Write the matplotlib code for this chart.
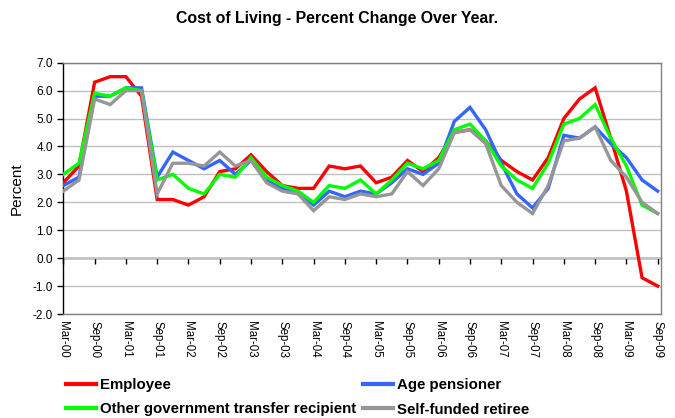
import matplotlib
matplotlib.use("Agg")
import matplotlib.pyplot as plt
from matplotlib.lines import Line2D

plt.rcParams['font.family'] = ['Liberation Sans', 'DejaVu Sans']
plt.rcParams['axes.unicode_minus'] = False

quarters = [f"{m}-{y:02d}" for y in range(0, 10) for m in ("Mar", "Jun", "Sep", "Dec")][:39]

employee = [2.7, 3.3, 6.3, 6.5, 6.5, 5.8, 2.1, 2.1, 1.9, 2.2,
            3.1, 3.2, 3.7, 3.1, 2.6, 2.5, 2.5, 3.3, 3.2, 3.3,
            2.7, 2.9, 3.5, 3.1, 3.6, 4.5, 4.6, 4.2, 3.5, 3.1,
            2.8, 3.6, 5.0, 5.7, 6.1, 4.3, 2.4, -0.7, -1.0]
age_pensioner = [2.6, 2.9, 5.8, 5.8, 6.1, 6.1, 2.9, 3.8, 3.5, 3.2,
                 3.5, 3.0, 3.5, 2.8, 2.5, 2.4, 1.9, 2.4, 2.2, 2.4,
                 2.3, 2.7, 3.2, 3.0, 3.4, 4.9, 5.4, 4.6, 3.4, 2.3,
                 1.8, 2.5, 4.4, 4.3, 4.7, 4.1, 3.6, 2.8, 2.4]
other_transfer = [3.0, 3.4, 5.9, 5.8, 6.1, 6.0, 2.8, 3.0, 2.5, 2.3,
                  3.0, 2.9, 3.6, 2.9, 2.6, 2.4, 2.0, 2.6, 2.5, 2.8,
                  2.3, 2.8, 3.4, 3.2, 3.5, 4.6, 4.8, 4.2, 3.3, 2.8,
                  2.5, 3.4, 4.8, 5.0, 5.5, 4.3, 3.3, 1.9, 1.6]
self_funded = [2.4, 2.8, 5.7, 5.5, 6.0, 6.0, 2.3, 3.4, 3.4, 3.3,
               3.8, 3.3, 3.5, 2.7, 2.4, 2.3, 1.7, 2.2, 2.1, 2.3,
               2.2, 2.3, 3.1, 2.6, 3.2, 4.5, 4.6, 4.1, 2.6, 2.0,
               1.6, 2.6, 4.2, 4.3, 4.7, 3.5, 2.9, 2.0, 1.6]

series_names = ["Employee", "Age pensioner", "Other government transfer recipient", "Self-funded retiree"]
series_colors = ["#FF0000", "#3366FF", "#00FF00", "#969696"]
series_values = [employee, age_pensioner, other_transfer, self_funded]

x = list(range(len(quarters)))

fig = plt.figure(figsize=(6.75, 4.18), dpi=100)
ax = fig.add_axes([0.0938, 0.2488, 0.979 - 0.0938, 0.85 - 0.2488])

handles = {}
for name, col, vals in zip(series_names, series_colors, series_values):
    ln, = ax.plot(x, vals, color=col, lw=2.4, solid_joinstyle='miter', zorder=3)
    handles[name] = ln

ax.set_ylim(-2, 7)
ax.set_xlim(0, 38.2)
ax.set_yticks(range(-2, 8))
ax.set_yticklabels([f"{v:.1f}" for v in range(-2, 8)], fontsize=8.5)
ax.yaxis.grid(True, color="#C0C0C0", lw=1)
ax.set_axisbelow(True)
ax.tick_params(axis='y', direction='out', length=4, width=1, pad=3.5, colors='black')

ticks = x[::2]
ax.set_xticks(ticks)
ax.set_xticklabels([quarters[i] for i in ticks], rotation=-90, fontsize=8.3)
ax.tick_params(axis='x', length=0, pad=5)

for s in ("top", "right", "bottom"):
    ax.spines[s].set_color("#808080")
    ax.spines[s].set_linewidth(1)
ax.spines["left"].set_color("black")
ax.spines["left"].set_linewidth(1)

sec = ax.secondary_xaxis(2 / 9)
sec.set_xticks(ticks)
sec.set_xticklabels([])
sec.tick_params(axis='x', direction='out', length=4, width=1, colors='black')
sec.spines['bottom'].set_color('black')
sec.spines['bottom'].set_linewidth(1)

ax.set_ylabel("Percent", fontsize=11, labelpad=6)

fig.text(0.5, 1 - 18 / 418, "Cost of Living - Percent Change Over Year.",
         ha='center', va='center', fontsize=11.4, fontweight='bold')

order = ["Employee", "Other government transfer recipient", "Age pensioner", "Self-funded retiree"]
leg_handles = [Line2D([], [], color=handles[n].get_color(), lw=3) for n in order]
fig.legend(leg_handles, order, ncol=2, loc='upper left',
           bbox_to_anchor=(66 / 675, 1 - 378 / 418), frameon=False,
           prop={'weight': 'bold', 'size': 10.8}, handlelength=2.0,
           handletextpad=0.25, columnspacing=0.5, labelspacing=0.7,
           borderpad=0, borderaxespad=0)

fig.savefig("out.png", dpi=100, facecolor='white')
